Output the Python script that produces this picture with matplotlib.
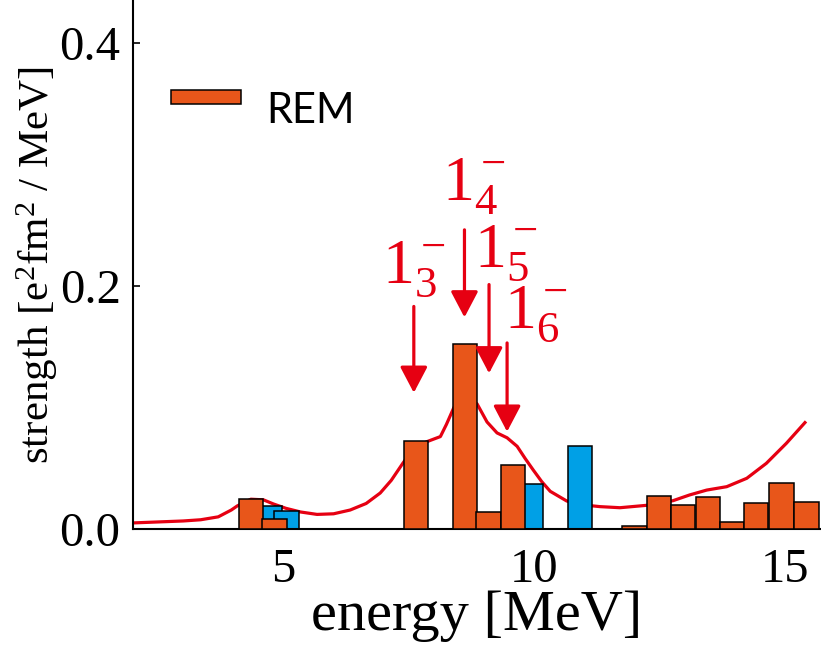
import matplotlib
matplotlib.use('Agg')
import matplotlib.pyplot as plt
from matplotlib.patches import Patch, Rectangle
from matplotlib.legend_handler import HandlerPatch

plt.rcParams['font.family'] = ['Liberation Serif', 'DejaVu Serif']
plt.rcParams['mathtext.fontset'] = 'custom'
plt.rcParams['mathtext.rm'] = 'Liberation Serif'
plt.rcParams['mathtext.it'] = 'Liberation Serif:italic'

# REM strength histogram (orange) and second set (blue)
rem_e = [4.35, 4.82, 7.64, 8.62, 9.09, 9.58, 12.00, 12.49, 12.97, 13.46, 13.94, 14.43, 14.93, 15.43]
rem_s = [0.025, 0.008, 0.072, 0.152, 0.014, 0.053, 0.0027, 0.027, 0.020, 0.026, 0.0055, 0.021, 0.0376, 0.022]
blue_e = [4.72, 5.06, 9.94, 10.91]
blue_s = [0.019, 0.015, 0.037, 0.068]

# smeared strength function (red line)
curve_e = [2.0, 3.0, 3.35, 3.7, 3.96, 4.08, 4.35, 4.6, 4.8, 5.05, 5.34, 5.67, 6.0, 6.33,
           6.65, 6.93, 7.15, 7.38, 7.59, 7.86, 8.13, 8.25, 8.4, 8.6, 8.86, 9.06, 9.26, 9.46,
           9.66, 9.82, 9.98, 10.15, 10.32, 10.65, 10.98, 11.31, 11.71, 12.25, 12.77,
           13.1, 13.44, 13.84, 14.24, 14.63, 15.03, 15.4]
curve_s = [0.005, 0.0066, 0.0076, 0.010, 0.0156, 0.019, 0.0245, 0.024, 0.0206, 0.017, 0.014,
           0.012, 0.0125, 0.0156, 0.021, 0.0296, 0.040, 0.054, 0.066, 0.0718, 0.076, 0.086,
           0.100, 0.108, 0.103, 0.088, 0.079, 0.075, 0.068, 0.058, 0.0486, 0.039, 0.031, 0.023,
           0.0198, 0.0184, 0.0175, 0.0195, 0.0233, 0.028, 0.032, 0.0348, 0.0417, 0.054,
           0.0705, 0.0875]

# state markers 1^-_3 ... 1^-_6
state_labels = [r'$\mathregular{1_3^-}$', r'$\mathregular{1_4^-}$',
                r'$\mathregular{1_5^-}$', r'$\mathregular{1_6^-}$']
arrow_e = [7.60, 8.61, 9.10, 9.46]
arrow_top = [0.183, 0.246, 0.201, 0.153]
arrow_tip = [0.112, 0.174, 0.128, 0.080]
label_e = [6.97, 8.17, 8.80, 9.40]
label_s = [0.203, 0.270, 0.216, 0.166]

orange = '#E8561A'
blue = '#00A0E6'
red = '#E60012'


def flat_handle(legend, orig_handle, xdescent, ydescent, width, height, fontsize):
    # thin bar, sitting a bit above the text centre like the original
    h = 0.33 * fontsize
    return Rectangle((-xdescent, -ydescent + height / 2 + 0.27 * fontsize - h / 2), width, h)


fig = plt.figure(figsize=(8.21, 6.45), dpi=100)
ax = fig.add_axes([133 / 821, 1 - 529 / 645, 688 / 821, 529 / 645])

ax.plot(curve_e, curve_s, color=red, lw=2.3, zorder=1)
ax.bar(blue_e, blue_s, width=0.485, color=blue, edgecolor='black', lw=1.1, zorder=2)
ax.bar(rem_e, rem_s, width=0.485, color=orange, edgecolor='black', lw=1.1, zorder=3)

for lab, x, top, tip, lx, ly in zip(state_labels, arrow_e, arrow_top, arrow_tip, label_e, label_s):
    ax.annotate('', xy=(x, tip), xytext=(x, top),
                arrowprops=dict(arrowstyle='-|>,head_length=0.8,head_width=0.42',
                                mutation_scale=20, color=red, lw=2.3, shrinkA=0, shrinkB=0),
                zorder=4)
    ax.text(lx, ly, lab, color=red, fontsize=46, ha='left', va='baseline')

ax.set_xlim(2.0, 15.72)
ax.set_ylim(0, 0.435)
ax.set_xticks([5, 10, 15])
ax.set_yticks([0.0, 0.2, 0.4])
ax.set_yticklabels(['0.0', '0.2', '0.4'])
ax.tick_params(axis='x', length=0, labelsize=35, pad=14)
ax.tick_params(axis='y', direction='in', length=5, width=1.2, labelsize=35, pad=9)
ax.spines['top'].set_visible(False)
ax.spines['right'].set_visible(False)
ax.spines['left'].set_linewidth(1.5)
ax.spines['bottom'].set_linewidth(1.5)

ax.set_xlabel('energy [MeV]', fontsize=42, labelpad=-2)
ax.set_ylabel(r'strength [e$^2$fm$^2$ / MeV]', fontsize=31, labelpad=0)

leg = ax.legend(handles=[Patch(facecolor=orange, edgecolor='black', lw=1.1)], labels=['REM'],
                loc='center left', bbox_to_anchor=(0.0, 0.79), frameon=False,
                handlelength=1.7, handleheight=0.26, handletextpad=0.6,
                handler_map={Patch: HandlerPatch(patch_func=flat_handle)},
                prop={'family': 'Lato', 'size': 30})

fig.savefig('out.png', dpi=100)
